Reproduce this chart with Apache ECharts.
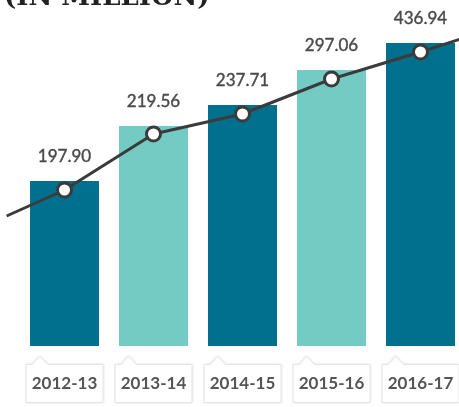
<!DOCTYPE html>
<html>
<head>
<meta charset="utf-8">
<title>(IN MILLION)</title>
<script src="https://cdn.jsdelivr.net/npm/echarts@6/dist/echarts.min.js"></script>
<style>
  html, body { margin: 0; padding: 0; background: #fff; }
  #chart { width: 459px; height: 407px; }
</style>
</head>
<body>
<div id="chart"></div>
<script>
// data
var years = ['2012-13', '2013-14', '2014-15', '2015-16', '2016-17'];
var valueLabels = ['197.90', '219.56', '237.71', '297.06', '436.94'];
// plotted heights of the bars (the artwork is not to scale)
var barLevels = [165, 220, 241, 276, 303];
// trend line: runs off both edges, markers sit a bit under the bar tops
var lineX = [-0.65, 0, 1, 2, 3, 4, 4.45];
var lineLevels = [130, 156, 212, 232, 267, 294, 307];
var barColors = ['#00708e', '#74cbc3'];

// label box with a little notch on top
function makeTag() {
    var c = document.createElement('canvas');
    c.width = 80; c.height = 50;
    var g = c.getContext('2d');
    g.shadowColor = 'rgba(0,0,0,0.18)';
    g.shadowBlur = 3;
    g.beginPath();
    g.moveTo(1.5, 10.5);
    g.lineTo(8, 10.5);
    g.lineTo(15, 2);
    g.lineTo(23, 10.5);
    g.lineTo(78.5, 10.5);
    g.lineTo(78.5, 48.5);
    g.lineTo(1.5, 48.5);
    g.closePath();
    g.fillStyle = '#fff';
    g.fill();
    g.shadowBlur = 0;
    g.strokeStyle = '#e4e4e4';
    g.lineWidth = 1;
    g.stroke();
    return c;
}

var chart = echarts.init(document.getElementById('chart'));
var option = {
    animation: false,
    title: {
        text: '(IN MILLION)',
        left: -1,
        top: -20,
        textStyle: { fontFamily: 'DejaVu Serif', fontWeight: 'bold', fontSize: 26, color: '#222' }
    },
    grid: [
        { left: 20, width: 445, top: 0, bottom: 61, outerBoundsMode: 'none' },
        // full-width grid for the trend line so it can run to the edges
        { left: 0, width: 459, top: 0, bottom: 61, outerBoundsMode: 'none' }
    ],
    xAxis: [
        {
            type: 'category',
            gridIndex: 0,
            data: years,
            axisLine: { show: false },
            axisTick: { show: false },
            axisLabel: {
                margin: 8,
                width: 80,
                height: 40,
                lineHeight: 40,
                padding: [10, 0, 0, 0],
                align: 'center',
                fontFamily: 'Lato',
                fontWeight: 'bold',
                fontSize: 17,
                color: '#555',
                backgroundColor: { image: makeTag() }
            }
        },
        // same positions as the category centres: 20px offset, 89px per band
        { type: 'value', gridIndex: 1, min: -0.7247, max: 4.4326, show: false }
    ],
    yAxis: [
        { type: 'value', gridIndex: 0, min: 0, max: 346, show: false },
        { type: 'value', gridIndex: 1, min: 0, max: 346, show: false }
    ],
    series: [
        {
            type: 'bar',
            barWidth: 69,
            data: barLevels.map(function (v, i) {
                return { value: v, itemStyle: { color: barColors[i % 2] } };
            }),
            label: {
                show: true,
                position: 'top',
                distance: 16,
                fontFamily: 'Lato',
                fontSize: 17,
                color: '#4a4a4a',
                textBorderColor: '#4a4a4a',
                textBorderWidth: 0.4,
                formatter: function (p) { return valueLabels[p.dataIndex]; }
            }
        },
        {
            type: 'line',
            xAxisIndex: 1,
            yAxisIndex: 1,
            z: 5,
            data: lineX.map(function (x, i) {
                var last = i === 0 || i === lineX.length - 1;
                return { value: [x, lineLevels[i]], symbol: last ? 'none' : 'circle' };
            }),
            symbolSize: 14,
            lineStyle: { color: '#3b3b3b', width: 3 },
            itemStyle: { color: '#fff', borderColor: '#3b3b3b', borderWidth: 3 }
        }
    ]
};
chart.setOption(option);
</script>
</body>
</html>
